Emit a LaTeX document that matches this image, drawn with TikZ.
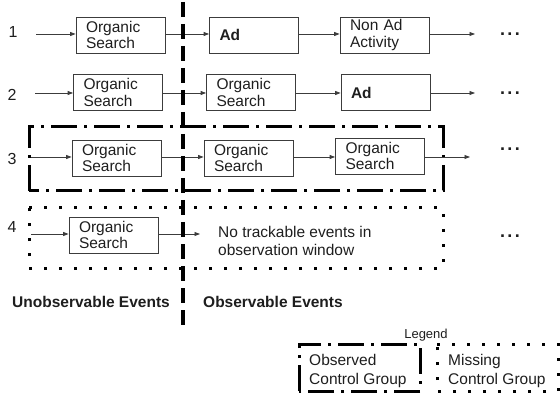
\documentclass[tikz,border=0pt]{standalone}
\usepackage{fontspec}
\setmainfont{Liberation Sans}
\usetikzlibrary{arrows.meta}
\definecolor{txt}{HTML}{1E1E1E}
\definecolor{brd}{HTML}{3C3C3C}
\tikzset{
  x=1pt, y=-1pt,
  evbox/.style={draw=brd, line width=0.8pt, minimum width=89pt, minimum height=36pt,
    inner xsep=10pt, inner ysep=0pt, text width=69pt, align=left, text=txt,
    font=\fontsize{15.5}{16.5}\selectfont},
  adbox/.style={evbox, font=\fontsize{15.5}{16.5}\selectfont\bfseries},
  conn/.style={draw=brd, line width=0.8pt, -{Triangle[length=5.5pt,width=4pt]}},
  rowlab/.style={text=txt, font=\fontsize{16}{18}\selectfont, inner sep=0pt},
  more/.style={text=txt, font=\fontsize{18}{20}\selectfont\bfseries, inner sep=0pt},
  plain/.style={text=txt, font=\fontsize{15.5}{18}\selectfont, inner sep=0pt, align=left},
  legtext/.style={text=txt, font=\fontsize{15.5}{19}\selectfont, inner sep=0pt, align=left},
  headlab/.style={text=txt, font=\fontsize{15.5}{17}\selectfont\bfseries, inner sep=0pt},
  dashdotline/.style={line width=3pt, dash pattern=on 26pt off 7pt on 3pt off 7pt},
  dotline/.style={line width=3pt, dash pattern=on 3pt off 12pt},
  divider/.style={line width=3.5pt, dash pattern=on 15pt off 7pt},
}
\newcommand{\mydots}{.\hspace{2.5pt}.\hspace{2.5pt}.}
\begin{document}
\begin{tikzpicture}
\useasboundingbox (0,0) rectangle (560,393);

% group frames
\draw[dashdotline] (29,191) -- (29,127) -- (443,127) -- (443,191) -- cycle;
\draw[dotline] (29,208) -- (443,208) -- (443,268) -- (29,268) -- cycle;

% row labels
\node[rowlab] (l1) at (13,32) {1};
\node[rowlab] (l2) at (12,95) {2};
\node[rowlab] (l3) at (12,159) {3};
\node[rowlab] (l4) at (12,227) {4};

% row 1
\node[evbox] (r1a) at (120.5,35) {Organic\\Search};
\node[adbox] (r1b) at (254,35) {Ad};
\node[evbox] (r1c) at (384.5,35) {Non Ad\\Activity};
\coordinate (s1) at (36,34);
\coordinate (e1) at (475,34);
\node[more] (m1) at (510,34) {\mydots};
\draw[conn] (s1) -- (s1 -| r1a.west);
\draw[conn] (r1a.east |- s1) -- (r1b.west |- s1);
\draw[conn] (r1b.east |- s1) -- (r1c.west |- s1);
\draw[conn] (r1c.east |- s1) -- (e1);

% row 2
\node[evbox] (r2a) at (118,92.5) {Organic\\Search};
\node[evbox] (r2b) at (251,92.5) {Organic\\Search};
\node[adbox] (r2c) at (385.5,92.5) {Ad};
\coordinate (s2) at (35,93);
\coordinate (e2) at (475,93);
\node[more] (m2) at (510,93) {\mydots};
\draw[conn] (s2) -- (s2 -| r2a.west);
\draw[conn] (r2a.east |- s2) -- (r2b.west |- s2);
\draw[conn] (r2b.east |- s2) -- (r2c.west |- s2);
\draw[conn] (r2c.east |- s2) -- (e2);

% row 3
\node[evbox] (r3a) at (116.5,158) {Organic\\Search};
\node[evbox] (r3b) at (248.5,158) {Organic\\Search};
\node[evbox] (r3c) at (380,156) {Organic\\Search};
\coordinate (s3) at (31,157);
\coordinate (e3) at (470,157);
\node[more] (m3) at (510,149) {\mydots};
\draw[conn] (s3) -- (s3 -| r3a.west);
\draw[conn] (r3a.east |- s3) -- (r3b.west |- s3);
\draw[conn] (r3b.east |- s3) -- (r3c.west |- s3);
\draw[conn] (r3c.east |- s3) -- (e3);

% row 4
\node[evbox] (r4a) at (113.5,235) {Organic\\Search};
\coordinate (s4) at (31,234);
\coordinate (e4) at (200,234);
\node[plain, anchor=west] (r4t) at (218,241) {No trackable events in\\observation window};
\node[more] (m4) at (510,236) {\mydots};
\draw[conn] (s4) -- (s4 -| r4a.west);
\draw[conn] (r4a.east |- s4) -- (e4);

% divider
\coordinate (dtop) at (183,2);
\coordinate (dbot) at (183,329);
\draw[divider] (dtop) -- (dbot);

% headings
\node[headlab, anchor=west] (unobs) at (12,302) {Unobservable Events};
\node[headlab, anchor=west] (obs) at (203,302) {Observable Events};

% legend
\node[text=txt, font=\fontsize{13}{15}\selectfont, inner sep=0pt] (leg) at (426,335) {Legend};
\draw[dashdotline] (299,391) -- (299,344) -- (420,344) -- (420,391) -- cycle;
\draw[dotline] (437,344) -- (558,344) -- (558,391) -- (437,391) -- cycle;
\node[legtext, anchor=west] (lg1) at (309,371) {Observed\\Control Group};
\node[legtext, anchor=west] (lg2) at (448,371) {Missing\\Control Group};
\end{tikzpicture}
\end{document}
